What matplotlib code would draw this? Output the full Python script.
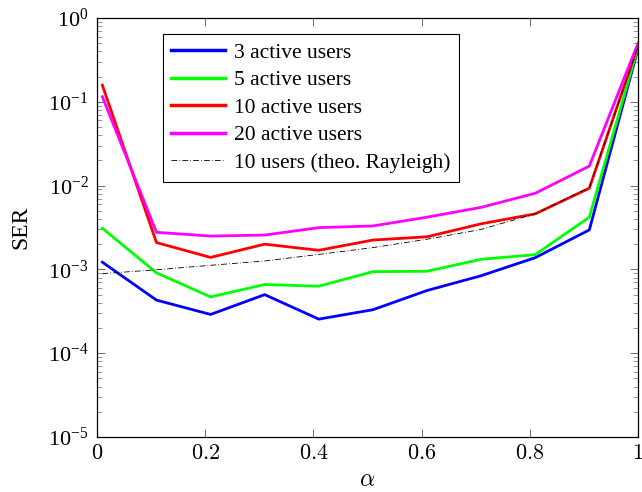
import matplotlib
matplotlib.use("Agg")
import matplotlib.pyplot as plt
from matplotlib.ticker import LogLocator, NullFormatter, FixedLocator

alpha = [0.01, 0.11, 0.21, 0.31, 0.41, 0.51, 0.61, 0.71, 0.81, 0.91, 1.0]
ser_3 = [1.22e-3, 4.3e-4, 2.9e-4, 5.0e-4, 2.55e-4, 3.3e-4, 5.6e-4, 8.4e-4, 1.38e-3, 2.96e-3, 0.43]
ser_5 = [3.1e-3, 9.1e-4, 4.7e-4, 6.6e-4, 6.3e-4, 9.4e-4, 9.5e-4, 1.32e-3, 1.5e-3, 4.2e-3, 0.45]
ser_10 = [0.158, 2.09e-3, 1.39e-3, 2.0e-3, 1.69e-3, 2.24e-3, 2.45e-3, 3.5e-3, 4.6e-3, 9.3e-3, 0.47]
ser_20 = [0.115, 2.77e-3, 2.5e-3, 2.57e-3, 3.15e-3, 3.3e-3, 4.2e-3, 5.5e-3, 8.1e-3, 1.71e-2, 0.5]
ser_theo = [8.9e-4, 9.9e-4, 1.12e-3, 1.26e-3, 1.51e-3, 1.82e-3, 2.29e-3, 3.0e-3, 4.6e-3, 9.5e-3, 0.46]
labels = ["3 active users", "5 active users", "10 active users", "20 active users",
          "10 users (theo. Rayleigh)"]
xticks = [0, 0.2, 0.4, 0.6, 0.8, 1]
xtick_labels = ["$0$", "$0.2$", "$0.4$", "$0.6$", "$0.8$", "$1$"]

plt.rcParams["mathtext.fontset"] = "cm"
plt.rcParams["font.family"] = ["Liberation Serif", "DejaVu Serif"]

fig = plt.figure(figsize=(6.42, 4.92), dpi=100)
ax = fig.add_axes([0.151, 0.1118, 0.8428, 0.8516])

lw = 2.0
ax.plot(alpha, ser_3, color=(0, 0, 1), lw=lw, label=labels[0])
ax.plot(alpha, ser_5, color=(0, 1, 0), lw=lw, label=labels[1])
ax.plot(alpha, ser_10, color=(1, 0, 0), lw=lw, label=labels[2])
ax.plot(alpha, ser_20, color=(1, 0, 1), lw=lw, label=labels[3])
ax.plot(alpha, ser_theo, color="black", lw=0.6, ls=(0, (7, 2.5, 1, 2.5)), label=labels[4])

ax.set_yscale("log")
ax.set_xlim(0, 1)
ax.set_ylim(1e-5, 1)
ax.xaxis.set_major_locator(FixedLocator(xticks))
ax.set_xticklabels(xtick_labels)
ax.yaxis.set_major_locator(LogLocator(base=10, numticks=10))
ax.yaxis.set_minor_locator(LogLocator(base=10, subs=range(2, 10), numticks=20))
ax.yaxis.set_minor_formatter(NullFormatter())

ax.tick_params(which="both", direction="in", top=True, right=True, labelsize=16, pad=6)
ax.tick_params(which="major", length=5.5, width=0.6, color="#555555")
ax.tick_params(which="minor", length=3.8, width=0.6, color="#888888")
for s in ax.spines.values():
    s.set_linewidth(0.9)

ax.set_xlabel(r"$\alpha$", fontsize=17, labelpad=4)
ax.set_ylabel("SER", fontsize=17, labelpad=12)

leg = ax.legend(loc="upper left", bbox_to_anchor=(0.1215, 0.962), borderaxespad=0,
                fontsize=15.5, fancybox=False, edgecolor="black", framealpha=1,
                handlelength=2.5, handletextpad=0.4, labelspacing=0.35,
                borderpad=0.4)
leg.get_frame().set_linewidth(0.8)
for line in leg.get_lines()[:4]:
    line.set_linewidth(2.5)

fig.savefig("out.png", dpi=100)
